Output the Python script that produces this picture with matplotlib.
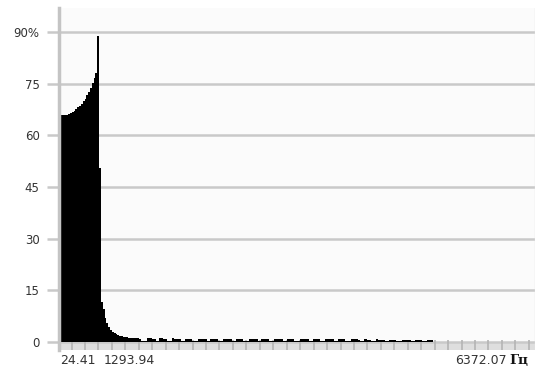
import matplotlib
matplotlib.use('Agg')
from matplotlib import pyplot as plt
from matplotlib.ticker import MultipleLocator
import matplotlib.transforms as mtrans
import numpy as np

# spectrum bins, step 24.41 Hz
bin_step = 24.41
n_bins = 261

# amplitude (%) for the first bins
head = [66.0, 66.0, 66.0, 66.0, 66.0, 66.2, 66.5, 66.8, 67.2, 67.6, 68.1,
        68.6, 69.2, 69.9, 70.7, 71.6, 72.6, 73.8, 75.2, 76.8, 78.0,
        89.0, 50.5, 11.5, 9.5, 7.0, 5.5, 4.4, 3.6, 3.0, 2.6,
        2.2, 2.0, 1.8, 1.65, 1.5, 1.4, 1.35, 1.3, 1.25, 1.2]

# low-level tail
tail = [1.2, 1.1, 1.1, 1.0, 0.4, 0.4, 0.4,
        1.1, 1.1, 1.1, 1.0, 1.0, 0.4, 0.4,
        1.1, 1.1, 1.0, 1.0, 0.4, 0.4, 0.4,
        1.1, 1.0, 1.0, 1.0, 1.0, 0.4, 0.4,
        1.0, 1.0, 1.0, 1.0, 0.4, 0.4, 0.4,
        1.0, 1.0, 1.0, 1.0, 0.9, 0.4, 0.4,
        1.0, 1.0, 1.0, 0.9, 0.4, 0.4, 0.4,
        1.0, 1.0, 0.9, 0.9, 0.9, 0.4, 0.4,
        1.0, 0.9, 0.9, 0.9, 0.4, 0.4, 0.4,
        0.9, 0.9, 0.9, 0.9, 0.9, 0.4, 0.4,
        0.9, 0.9, 0.9, 0.9, 0.4, 0.4, 0.4,
        0.9, 0.9, 0.9, 0.9, 0.8, 0.3, 0.3,
        0.9, 0.9, 0.8, 0.8, 0.3, 0.3, 0.3,
        0.9, 0.8, 0.8, 0.8, 0.8, 0.3, 0.3,
        0.8, 0.8, 0.8, 0.8, 0.3, 0.3, 0.3,
        0.8, 0.8, 0.8, 0.8, 0.8, 0.3, 0.3,
        0.8, 0.8, 0.8, 0.8, 0.3, 0.3, 0.3,
        0.8, 0.8, 0.8, 0.8, 0.7, 0.3, 0.3,
        0.8, 0.8, 0.7, 0.7, 0.3, 0.3, 0.3,
        0.8, 0.7, 0.7, 0.7, 0.7, 0.3, 0.3,
        0.7, 0.7, 0.7, 0.7, 0.3, 0.3, 0.3,
        0.7, 0.7, 0.7, 0.7, 0.7, 0.3, 0.3,
        0.7, 0.7, 0.7, 0.7, 0.3, 0.3, 0.3,
        0.7, 0.7, 0.7]

amp = np.array(head + tail)
freq = bin_step * np.arange(1, len(amp) + 1)

yticks = [0, 15, 30, 45, 60, 75, 90]
ylabels = ['0', '15', '30', '45', '60', '75', '90%']
xticks = [24.41, 1293.94, 6372.07]
xlabels = ['24.41', '1293.94', '6372.07']
unit = 'Гц'

fig = plt.figure(figsize=(5.38, 3.73), dpi=100)
axe = fig.add_axes([0.1097, 0.0617, 0.8847, 0.9169])
axe.set_facecolor('#fbfbfb')

px = 15 / 51.7  # value units per pixel
ybot = -8 * px
axe.set_ylim(ybot, 97)
axe.set_xlim(bin_step * 0.5, bin_step * (n_bins + 0.5))

# grid
for y in yticks:
    axe.axhline(y, color='#c9c9c9', lw=1.8, zorder=1)
axe.axhspan(ybot, 0, color='#dedede', zorder=0.5, lw=0)

axe.bar(freq, amp, width=bin_step, color='black', lw=0, zorder=2)

for s in ['top', 'bottom', 'right']:
    axe.spines[s].set_visible(False)
axe.spines['left'].set_color('#c4c4c4')
axe.spines['left'].set_linewidth(2.5)
axe.axvline(axe.get_xlim()[1], color='#e4e4e4', lw=1)

axe.set_yticks(yticks)
axe.set_yticklabels(ylabels, fontsize=8.5, color='#333333')
axe.tick_params(axis='y', length=9, width=1.8, color='#c9c9c9', pad=5)

axe.xaxis.set_minor_locator(MultipleLocator(180))
axe.tick_params(axis='x', which='minor', direction='in', length=7,
                width=1.2, color='#b4b4b4')
axe.set_xticks(xticks)
axe.set_xticklabels(xlabels, fontsize=9, color='#333333')
axe.tick_params(axis='x', which='major', length=0, pad=3)
labs = axe.get_xticklabels()
labs[0].set_ha('left')
labs[1].set_ha('right')
labs[2].set_ha('right')
# shift the last label left to leave room for the unit
labs[2].set_transform(labs[2].get_transform() +
                      mtrans.ScaledTranslation(-27 / 100, 0, fig.dpi_scale_trans))

axe.annotate(unit, xy=(1, 0), xycoords='axes fraction', xytext=(-5, -3),
             textcoords='offset points', ha='right', va='top',
             fontsize=9.5, fontweight='bold', family='DejaVu Serif',
             color='#111111')

plt.savefig('out.png', dpi=100)
